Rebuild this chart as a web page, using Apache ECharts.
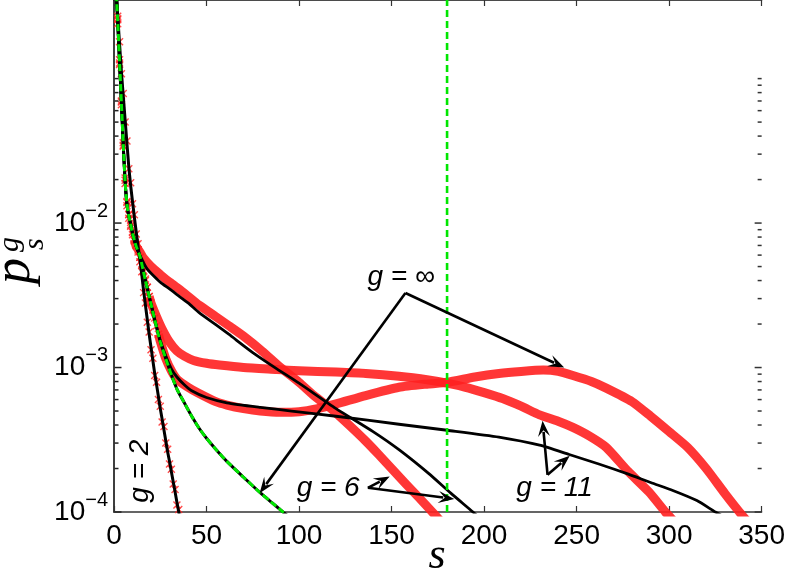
<!DOCTYPE html>
<html><head><meta charset="utf-8">
<script src="https://cdn.jsdelivr.net/npm/echarts@6/dist/echarts.min.js"></script>
<style>html,body{margin:0;padding:0;background:#fff}#c{width:788px;height:575px}</style>
</head><body><div id="c"></div>
<script>
// ---------------- data ----------------
const xTicks = [0, 50, 100, 150, 200, 250, 300, 350];
const yMajorTicks = [1e-4, 1e-3, 1e-2];
const yMinorTicks = [2e-4,3e-4,4e-4,5e-4,6e-4,7e-4,8e-4,9e-4,
                     2e-3,3e-3,4e-3,5e-3,6e-3,7e-3,8e-3,9e-3,
                     2e-2,3e-2,4e-2,5e-2,6e-2,7e-2,8e-2,9e-2,1e-1];
const verticalLineS = 180;

// g = 2 : theory (black) and simulation (red crosses)
const g2Theory_s = [1,2,3,4,5,6,7,8,9,10,11,12,13,14,15,16,17,18,19,20,21,22,23,24,25,26,27,28,29,30,31,32,33,34,35,36];
const g2Theory_p = [0.43,0.275,0.174,0.112,0.076,0.052,0.0355,0.0245,0.0182,0.0141,0.011,0.0087,0.0069,0.0056,0.0044,0.0034,0.0027,0.00214,0.0017,0.00138,0.00112,0.00091,0.00076,0.00063,0.00052,0.00044,0.00037,0.00031,0.00026,0.000224,0.00019,0.000162,0.000138,0.000117,0.0001,0.000085];
const g2Sim_s = [1,2,3,4,5,6,7,8,9,10,11,12,13,14,15,16,17,18,19,20,21,22,23,24,25,26,27,28,29,30,31,32,33,34,35,36];
const g2Sim_p = [0.42,0.27,0.18,0.108,0.079,0.05,0.037,0.0238,0.019,0.0136,0.0114,0.0084,0.0072,0.0054,0.0046,0.0033,0.0028,0.00206,0.00176,0.00133,0.00116,0.00088,0.00079,0.0006,0.00054,0.00042,0.00039,0.0003,0.000272,0.000215,0.000198,0.000156,0.000143,0.000112,0.000104,0.000082];

// green dashed curve (g = infinity, limiting curve)
const gInfCurve_s = [1,2,3,4,5,6,7,8,9,10,12,14,17,20,22,25,28,31,34,38,42,46,50,55,61,70,79,85,90,96];
const gInfCurve_p = [0.45,0.25,0.13,0.068,0.035,0.0195,0.0135,0.0112,0.0098,0.0085,0.0069,0.0059,0.004,0.00275,0.00214,0.00151,0.00115,0.00089,0.00071,0.00057,0.00046,0.00038,0.000324,0.000272,0.000224,0.000174,0.000136,0.000117,0.0001035,0.000089];

// g = 6 theory (black)
const g6Theory_s = [1,2,3,4,5,6,7,8,9,10,12,13,14,16,18,20,25,30,34,40,46,55,62,75,88,100,120,140,154,170,182,194,198];
const g6Theory_p = [0.45,0.25,0.13,0.068,0.035,0.0195,0.0135,0.0112,0.0098,0.0085,0.0069,0.0064,0.006,0.0053,0.0048,0.0045,0.0039,0.0035,0.0032,0.0028,0.0024,0.00198,0.0017,0.00127,0.00098,0.00078,0.00052,0.00036,0.00027,0.000185,0.000135,0.0001,0.00009];

// g = 11 theory (black)
const g11Theory_s = [1,2,3,4,5,6,7,8,9,10,12,14,17,20,22,25,28,31,34,38,42,50,61,79,96,120,154,180,208,230,246,262,278,290,302,315,325,330];
const g11Theory_p = [0.45,0.25,0.13,0.068,0.035,0.0195,0.0135,0.0112,0.0098,0.0085,0.0069,0.0059,0.004,0.00275,0.00214,0.00155,0.0012,0.00098,0.00086,0.00076,0.00069,0.00062,0.00057,0.00053,0.0005,0.00046,0.000405,0.000368,0.00033,0.00029,0.00025,0.000215,0.000183,0.00016,0.000141,0.00012,0.0001,0.000092];

// g = 6 simulation (red)
const g6Sim_s = [1,2,3,4,5,6,7,8,9,10,11,12,14,16,20,25,30,37,46,55,62,70,80,90,100,108,118,127,136,143,150,158,165,172,177];
const g6Sim_p = [0.44,0.24,0.135,0.066,0.036,0.0205,0.0141,0.0108,0.0101,0.0083,0.0077,0.0069,0.0063,0.0057,0.005,0.0044,0.0039,0.00335,0.0027,0.00225,0.00195,0.00165,0.0013,0.001,0.00079,0.00064,0.00051,0.0004,0.00031,0.00025,0.0002,0.000155,0.000125,0.0001,0.000085];

// g = 11 simulation (red)
const g11Sim_s = [1,2,3,4,5,6,7,8,9,10,11,12,13,14,15,16,17,18,19,20,23,26,30,34,38,43,50,57,70,88,100,120,136,154,170,180,190,200,210,220,230,240,248,257,266,278,289,298,303];
const g11Sim_p = [0.46,0.26,0.125,0.07,0.034,0.0188,0.0139,0.0115,0.0095,0.0087,0.0075,0.0071,0.0063,0.0058,0.0052,0.0047,0.0041,0.0036,0.0031,0.0028,0.00225,0.00185,0.0015,0.0013,0.0012,0.00112,0.00107,0.00104,0.001,0.00097,0.00095,0.00093,0.00091,0.00087,0.00082,0.00078,0.00073,0.00067,0.00061,0.00054,0.00047,0.000425,0.000385,0.000335,0.00028,0.00019,0.000138,0.0001,0.000085];

// g = infinity simulation (red)
const gInfSim_s = [1,2,3,4,5,6,7,8,9,10,11,12,13,14,15,16,17,18,19,20,21,22,23,24,25,28,31,34,40,46,55,61,70,79,90,100,110,120,136,154,170,180,195,208,220,232,240,248,258,266,280,290,300,310,320,330,338,342];
const gInfSim_p = [0.44,0.255,0.128,0.069,0.0345,0.0198,0.0132,0.0114,0.0097,0.0086,0.0076,0.007,0.0065,0.0058,0.0051,0.0046,0.004,0.0036,0.0031,0.0028,0.0025,0.0022,0.00195,0.0017,0.00152,0.00115,0.00095,0.00083,0.00073,0.00066,0.00058,0.00055,0.00052,0.0005,0.00049,0.000495,0.00052,0.00056,0.00064,0.00073,0.00077,0.00079,0.00086,0.00091,0.00094,0.00096,0.00094,0.00088,0.0008,0.00072,0.00058,0.00046,0.00036,0.00028,0.0002,0.000135,0.0001,0.000087];

// annotations (data coordinates)
const labels = [
  {text: 'g = \u221E', s: 137, p: 4.25e-3, rotate: 0},
  {text: 'g = 6',      s: 98.7, p: 1.47e-4, rotate: 0},
  {text: 'g = 11',     s: 217.4, p: 1.47e-4, rotate: 0},
  {text: 'g = 2',      s: 14.0, p: 1.16e-4, rotate: 90}
];
const arrows = [
  {from: [157.5, 3.28e-3], to: [78.7, 1.35e-4]},
  {from: [157.5, 3.28e-3], to: [243.3, 1.0e-3]},
  {from: [137.2, 1.47e-4], to: [149.0, 1.76e-4]},
  {from: [137.2, 1.47e-4], to: [183.9, 1.23e-4]},
  {from: [234.3, 1.81e-4], to: [231.6, 4.29e-4]},
  {from: [234.3, 1.81e-4], to: [246.3, 2.45e-4]}
];

// ---------------- rendering ----------------
const zip = (s, p) => s.map((v, i) => [v, p[i]]);
const RED = '#ff2020', GREEN = '#00e600', AX = '#333';
const crossPath = 'path://M0,0L10,10M10,0L0,10';

function simParts(s, p, crossMax, bandMin) {
  const all = zip(s, p);
  return {
    cross: all.filter(d => d[0] <= crossMax),
    band: all.filter(d => d[0] >= bandMin)
  };
}
const simA = simParts(g6Sim_s, g6Sim_p, 11, 11);
const simB = simParts(g11Sim_s, g11Sim_p, 19, 19);
const simC = simParts(gInfSim_s, gInfSim_p, 24, 24);

function bandSeries(data) {
  return {type: 'line', data, showSymbol: false, smooth: 0.2,
    lineStyle: {color: RED, width: 9, opacity: 0.9, cap: 'butt', join: 'round'}, z: 2, silent: true, animation: false};
}
function crossSeries(data) {
  return {type: 'scatter', data, symbol: crossPath, symbolSize: 7,
    itemStyle: {color: 'none', borderColor: RED, borderWidth: 1.4}, z: 3, silent: true, animation: false};
}
function blackLine(data, w) {
  return {type: 'line', data, showSymbol: false, smooth: 0.2,
    lineStyle: {color: '#000', width: w, join: 'round'}, z: 4, silent: true, animation: false};
}

const chart = echarts.init(document.getElementById('c'), null, {renderer: 'canvas'});
const FONT = 'Liberation Sans';
const X_MIN = xTicks[0], X_MAX = xTicks[xTicks.length - 1];

const yFormatter = v => {
  const e = Math.round(Math.log10(v) * 1000) / 1000;
  if (Number.isInteger(e) && yMajorTicks.some(t => Math.abs(Math.log10(t) - e) < 1e-6)) {
    return '{b|10}{s|\u2212' + (-e) + '}';
  }
  return '';
};

const option = {
  animation: false,
  backgroundColor: '#fff',
  grid: {left: 114, right: 25, top: 0, bottom: 63, containLabel: false},
  xAxis: [
    {type: 'value', min: X_MIN, max: X_MAX, interval: 50, position: 'bottom',
      axisLine: {lineStyle: {color: AX, width: 1.5}},
      axisTick: {inside: true, length: 6, lineStyle: {color: AX, width: 1.2}},
      axisLabel: {fontSize: 28, fontFamily: FONT, color: '#000', margin: 10},
      splitLine: {show: false}},
    {type: 'value', min: X_MIN, max: X_MAX, interval: 50, position: 'top',
      axisLine: {lineStyle: {color: '#111', width: 1.5}},
      axisTick: {inside: true, length: 6, lineStyle: {color: AX, width: 1.2}},
      axisLabel: {show: false}, splitLine: {show: false}}
  ],
  yAxis: [
    {type: 'log', logBase: 10, min: 1e-4, max: 0.35, position: 'left',
      axisLine: {show: true, lineStyle: {color: AX, width: 1.5}},
      axisTick: {show: false},
      axisLabel: {formatter: yFormatter, margin: 6,
        rich: {
          b: {fontSize: 28, fontFamily: FONT, color: '#000', lineHeight: 44, verticalAlign: 'middle'},
          s: {fontSize: 20, fontFamily: FONT, color: '#000', lineHeight: 14, verticalAlign: 'top'}
        }},
      splitLine: {show: false}},
    {type: 'log', logBase: 10, min: 1e-4, max: 0.35, position: 'right',
      axisLine: {show: true, lineStyle: {color: AX, width: 1.5}},
      axisTick: {show: false}, axisLabel: {show: false}, splitLine: {show: false}}
  ],
  series: [
    bandSeries(simA.band), bandSeries(simB.band), bandSeries(simC.band),
    crossSeries(simA.cross), crossSeries(simB.cross), crossSeries(simC.cross),
    crossSeries(zip(g2Sim_s, g2Sim_p)),
    blackLine(zip(g6Theory_s, g6Theory_p), 2.8),
    blackLine(zip(g11Theory_s, g11Theory_p), 2.8),
    blackLine(zip(g2Theory_s, g2Theory_p), 3),
    // limiting curve: black underlay + green dashes
    {type: 'line', data: zip(gInfCurve_s, gInfCurve_p), showSymbol: false, smooth: 0.25,
      lineStyle: {color: '#000', width: 3}, z: 5, silent: true},
    {type: 'line', data: zip(gInfCurve_s, gInfCurve_p), showSymbol: false, smooth: 0.25,
      lineStyle: {color: GREEN, width: 3, type: [7, 3]}, z: 6, silent: true},
    // vertical dashed line
    {type: 'line', data: [[verticalLineS, 1e-4], [verticalLineS, 0.35]], showSymbol: false,
      lineStyle: {color: GREEN, width: 2.6, type: [7, 4]}, z: 6, silent: true}
  ]
};
chart.setOption(option);

// ticks, texts and arrows positioned through the chart's scales
const px = d => chart.convertToPixel({xAxisIndex: 0, yAxisIndex: 0}, d);
const graphics = [];
yMajorTicks.map(v => [v, 7]).concat(yMinorTicks.map(v => [v, 4])).forEach(([v, len]) => {
  const pL = px([X_MIN, v]), pR = px([X_MAX, v]);
  graphics.push({type: 'rect', z: 60, silent: true,
    shape: {x: pL[0] + 0.5, y: pL[1] - 0.75, width: len, height: 1.5}, style: {fill: '#222'}});
  graphics.push({type: 'rect', z: 60, silent: true,
    shape: {x: pR[0] - len, y: pR[1] - 0.75, width: len, height: 1.5}, style: {fill: AX}});
});
labels.forEach(l => {
  const [x, y] = px([l.s, l.p]);
  graphics.push({type: 'text', x, y, rotation: l.rotate ? Math.PI / 2 : 0, z: 100,
    style: {text: l.text, font: 'italic 28px "Liberation Sans"', fill: '#000',
      textAlign: 'left', verticalAlign: 'middle'}});
});
arrows.forEach(a => {
  const [x1, y1] = px(a.from), [x2, y2] = px(a.to);
  const dx = x2 - x1, dy = y2 - y1, L = Math.hypot(dx, dy);
  const ux = dx / L, uy = dy / L, nx = -uy, ny = ux;
  const HL = 16, HW = 6;
  graphics.push({type: 'line', z: 100, shape: {x1, y1, x2: x2 - ux * HL * 0.7, y2: y2 - uy * HL * 0.7},
    style: {stroke: '#000', lineWidth: 2.6, lineJoin: 'round'}});
  graphics.push({type: 'polygon', z: 100, shape: {points: [
    [x2, y2],
    [x2 - ux * HL + nx * HW, y2 - uy * HL + ny * HW],
    [x2 - ux * HL * 0.6, y2 - uy * HL * 0.6],
    [x2 - ux * HL - nx * HW, y2 - uy * HL - ny * HW]
  ]}, style: {fill: '#000'}});
});
// axis titles
graphics.push({type: 'text', x: 437, y: 556, z: 100,
  style: {text: 's', font: 'italic 44px "Liberation Serif"', fill: '#000', textAlign: 'center', verticalAlign: 'middle'}});
const titleFont = f => 'italic ' + f + 'px "Liberation Serif"';
graphics.push({type: 'text', x: 15, y: 284, rotation: Math.PI / 2, z: 100,
  style: {text: 'p', font: titleFont(52), fill: '#000', textAlign: 'left', verticalAlign: 'middle'}});
graphics.push({type: 'text', x: 10, y: 252, rotation: Math.PI / 2, z: 100,
  style: {text: 'g', font: titleFont(30), fill: '#000', textAlign: 'left', verticalAlign: 'middle'}});
graphics.push({type: 'text', x: 35, y: 250, rotation: Math.PI / 2, z: 100,
  style: {text: 's', font: titleFont(30), fill: '#000', textAlign: 'left', verticalAlign: 'middle'}});
chart.setOption({graphic: graphics});
</script>
</body></html>
